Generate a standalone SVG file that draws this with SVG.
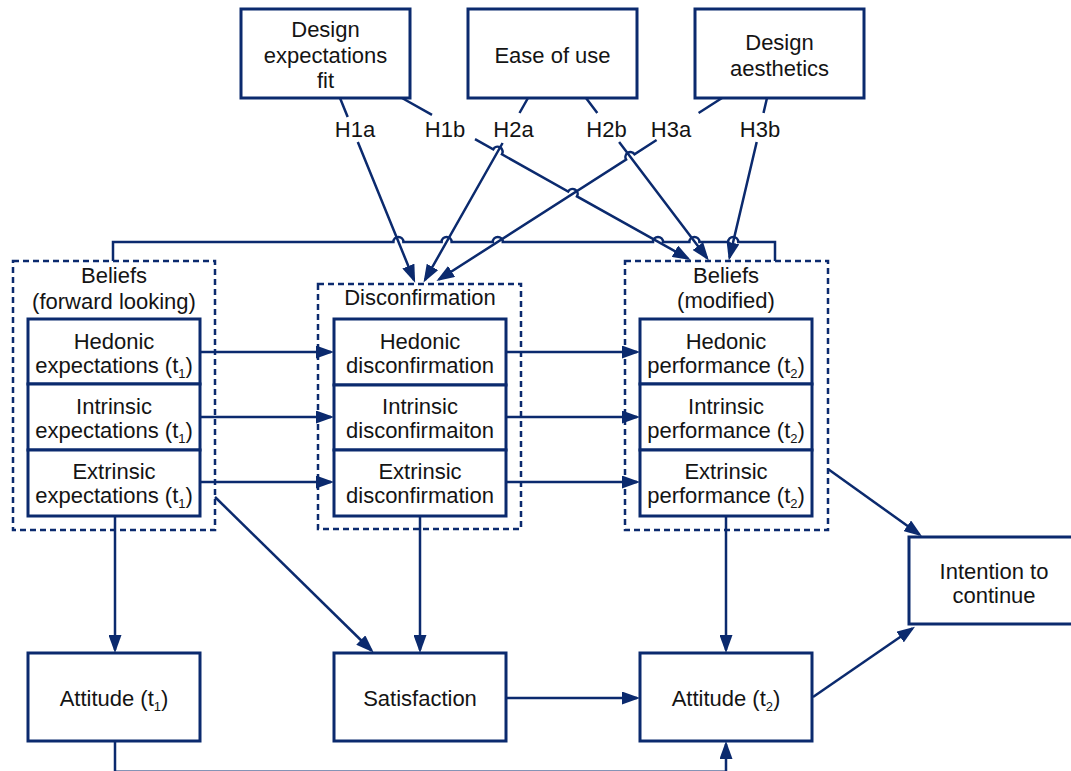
<svg xmlns="http://www.w3.org/2000/svg" width="1071" height="771" viewBox="0 0 1071 771">
<style>
.box{fill:#fff;stroke:#0b2a6e;stroke-width:3}
.dash{fill:none;stroke:#0b2a6e;stroke-width:2.5;stroke-dasharray:6 4}
.ln{fill:none;stroke:#0b2a6e;stroke-width:2.5}
text{font-family:"Liberation Sans",Arial,sans-serif;font-size:22px;fill:#141414;text-anchor:middle}
.sub{font-size:13px}
</style>
<defs>
<marker id="ah" viewBox="0 0 18 13" markerWidth="18" markerHeight="13" refX="15" refY="6.5" orient="auto" markerUnits="userSpaceOnUse">
<path d="M0,0 L18,6.5 L0,13 z" fill="#0b2a6e"/>
</marker>
</defs>
<rect width="1071" height="771" fill="#fff"/>

<g id="design-expectations-fit">
<rect class="box" x="241" y="9" width="169" height="89"/>
<text x="325.5" y="37">Design</text>
<text x="325.5" y="63">expectations</text>
<text x="325.5" y="88">fit</text>
</g>
<g id="ease-of-use">
<rect class="box" x="468" y="9" width="169" height="89"/>
<text x="552.5" y="63">Ease of use</text>
</g>
<g id="design-aesthetics">
<rect class="box" x="695" y="9" width="169" height="89"/>
<text x="779.5" y="50">Design</text>
<text x="779.5" y="76">aesthetics</text>
</g>

<g id="hypothesis-labels">
<text x="355" y="137">H1a</text>
<text x="445" y="137">H1b</text>
<text x="513.5" y="137">H2a</text>
<text x="606.5" y="137">H2b</text>
<text x="671" y="137">H3a</text>
<text x="760" y="137">H3b</text>
</g>

<g id="beliefs-forward-looking">
<rect class="dash" x="13" y="261" width="202" height="269"/>
<text x="114" y="283">Beliefs</text>
<text x="114" y="309">(forward looking)</text>
<g id="hedonic-expectations">
<rect class="box" x="28" y="319" width="172" height="65"/>
<text x="114" y="349">Hedonic</text>
<text x="114" y="373">expectations (t<tspan class="sub" dy="5">1</tspan><tspan dy="-5">)</tspan></text>
</g>
<g id="intrinsic-expectations">
<rect class="box" x="28" y="384" width="172" height="66"/>
<text x="114" y="414">Intrinsic</text>
<text x="114" y="438">expectations (t<tspan class="sub" dy="5">1</tspan><tspan dy="-5">)</tspan></text>
</g>
<g id="extrinsic-expectations">
<rect class="box" x="28" y="450" width="172" height="66"/>
<text x="114" y="479">Extrinsic</text>
<text x="114" y="503">expectations (t<tspan class="sub" dy="5">1</tspan><tspan dy="-5">)</tspan></text>
</g>
</g>

<g id="disconfirmation">
<rect class="dash" x="318" y="284" width="203" height="245"/>
<text x="420" y="305">Disconfirmation</text>
<g id="hedonic-disconfirmation">
<rect class="box" x="334" y="319" width="172" height="66"/>
<text x="420" y="349">Hedonic</text>
<text x="420" y="373">disconfirmation</text>
</g>
<g id="intrinsic-disconfirmation">
<rect class="box" x="334" y="385" width="172" height="65"/>
<text x="420" y="414">Intrinsic</text>
<text x="420" y="438">disconfirmaiton</text>
</g>
<g id="extrinsic-disconfirmation">
<rect class="box" x="334" y="450" width="172" height="66"/>
<text x="420" y="479">Extrinsic</text>
<text x="420" y="503">disconfirmation</text>
</g>
</g>

<g id="beliefs-modified">
<rect class="dash" x="625" y="261" width="203" height="269"/>
<text x="726" y="283">Beliefs</text>
<text x="726" y="308">(modified)</text>
<g id="hedonic-performance">
<rect class="box" x="640" y="319" width="172" height="65"/>
<text x="726" y="349">Hedonic</text>
<text x="726" y="373">performance (t<tspan class="sub" dy="5">2</tspan><tspan dy="-5">)</tspan></text>
</g>
<g id="intrinsic-performance">
<rect class="box" x="640" y="384" width="172" height="66"/>
<text x="726" y="414">Intrinsic</text>
<text x="726" y="438">performance (t<tspan class="sub" dy="5">2</tspan><tspan dy="-5">)</tspan></text>
</g>
<g id="extrinsic-performance">
<rect class="box" x="640" y="450" width="172" height="66"/>
<text x="726" y="479">Extrinsic</text>
<text x="726" y="503">performance (t<tspan class="sub" dy="5">2</tspan><tspan dy="-5">)</tspan></text>
</g>
</g>

<g id="attitude-t1">
<rect class="box" x="28" y="653" width="172" height="88"/>
<text x="114" y="706">Attitude (t<tspan class="sub" dy="5">1</tspan><tspan dy="-5">)</tspan></text>
</g>
<g id="satisfaction">
<rect class="box" x="334" y="653" width="172" height="88"/>
<text x="420" y="706">Satisfaction</text>
</g>
<g id="attitude-t2">
<rect class="box" x="640" y="653" width="172" height="88"/>
<text x="726" y="706">Attitude (t<tspan class="sub" dy="5">2</tspan><tspan dy="-5">)</tspan></text>
</g>
<g id="intention-to-continue">
<rect class="box" x="909" y="537" width="172" height="87"/>
<text x="994" y="579">Intention to</text>
<text x="994" y="603">continue</text>
</g>

<g id="connectors">
<path class="ln" d="M113,261 L113,242 L393.4,242 A5,5 0 0 1 403.4,242 L441.6,242 A5,5 0 0 1 451.6,242 L492.8,242 A5,5 0 0 1 502.8,242 L653,242 A5,5 0 0 1 663,242 L689.4,242 A5,5 0 0 1 699.4,242 L728.2,242 A5,5 0 0 1 738.2,242 L775,242 L775,261"/>
<path class="ln" d="M340,98 L347.7,117 M357.8,142 L414,280" marker-end="url(#ah)"/>
<path class="ln" d="M402,98 L432,114.9 M475,139.1 L493.2,149.3 A5,5 0 0 1 501.96,154.3 L568.2,191.5 A5,5 0 0 1 577,196.4 L688,258.5" marker-end="url(#ah)"/>
<path class="ln" d="M528,98 L519.5,113 M502.6,143 L425,280" marker-end="url(#ah)"/>
<path class="ln" d="M586,98 L597.3,113 M619.1,142 L707,258" marker-end="url(#ah)"/>
<path class="ln" d="M722,98 L698.6,113 M656.6,140 L634.5,154.2 A5,5 0 0 0 626.1,159.6 L439,279.5" marker-end="url(#ah)"/>
<path class="ln" d="M767,98 L763.5,113 M756.7,142 L729.5,257.5" marker-end="url(#ah)"/>
<path class="ln" d="M200,352 L331,352" marker-end="url(#ah)"/>
<path class="ln" d="M200,417 L331,417" marker-end="url(#ah)"/>
<path class="ln" d="M200,482 L331,482" marker-end="url(#ah)"/>
<path class="ln" d="M506,352 L637,352" marker-end="url(#ah)"/>
<path class="ln" d="M506,417 L637,417" marker-end="url(#ah)"/>
<path class="ln" d="M506,482 L637,482" marker-end="url(#ah)"/>
<path class="ln" d="M115,516 L115,650" marker-end="url(#ah)"/>
<path class="ln" d="M420,516 L420,650" marker-end="url(#ah)"/>
<path class="ln" d="M726,516 L726,650" marker-end="url(#ah)"/>
<path class="ln" d="M215,497 L371.5,650.5" marker-end="url(#ah)"/>
<path class="ln" d="M506,698 L637,698" marker-end="url(#ah)"/>
<path class="ln" d="M828,469 L919.5,534.5" marker-end="url(#ah)"/>
<path class="ln" d="M813,697 L912.5,628.5" marker-end="url(#ah)"/>
<path class="ln" d="M115,741 L115,771.8 L726,771.8 L726,744" marker-end="url(#ah)"/>
</g>
</svg>
